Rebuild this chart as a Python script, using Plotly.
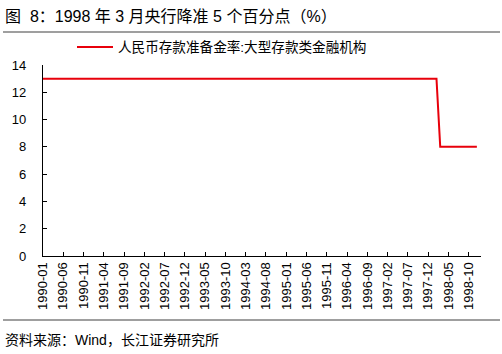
import plotly.graph_objects as go

# Data
dates = ["1990-01-01", "1998-02-01", "1998-03-01", "1998-12-01"]
rates = [13, 13, 8, 8]
series_name = "人民币存款准备金率:大型存款类金融机构"
tick_labels = ["1990-01", "1990-06", "1990-11", "1991-04", "1991-09", "1992-02",
               "1992-07", "1992-12", "1993-05", "1993-10", "1994-03", "1994-08",
               "1995-01", "1995-06", "1995-11", "1996-04", "1996-09", "1997-02",
               "1997-07", "1997-12", "1998-05", "1998-10"]
y_ticks = [0, 2, 4, 6, 8, 10, 12, 14]
title_text = "图  8：1998 年 3 月央行降准 5 个百分点（%）"
source_text = "资料来源：Wind，长江证券研究所"

W, H = 502, 354
L, R, T, B = 43, 21, 65, 98
pw, ph = W - L - R, H - T - B

def px(x):
    return (x - L) / pw

def py(y):
    return (H - B - y) / ph

FONT = "Liberation Sans, Arial, Noto Sans CJK SC, sans-serif"
MIX = "Liberation Sans, Arial, Noto Sans CJK SC, sans-serif"

fig = go.Figure()
fig.add_trace(go.Scatter(x=dates, y=rates, mode="lines", name=series_name,
                         line=dict(color="#e8000b", width=2), showlegend=False))

fig.update_layout(
    width=W, height=H,
    margin=dict(l=L, r=R, t=T, b=B),
    paper_bgcolor="white", plot_bgcolor="white",
    font=dict(family=FONT, size=13, color="#000"),
    xaxis=dict(range=["1990-01-01", "1999-01-01"], tickmode="array",
               tickvals=[t + "-01" for t in tick_labels], ticktext=tick_labels,
               tickangle=-90, ticks="inside", ticklen=4, tickcolor="#000",
               showline=True, linecolor="#000", linewidth=1.2, showgrid=False,
               zeroline=False, tickfont=dict(size=13, family=FONT)),
    yaxis=dict(range=[0, 14], tickvals=y_ticks, ticks="inside", ticklen=4,
               tickcolor="#000", showline=True, linecolor="#000", linewidth=1.2,
               showgrid=False, zeroline=False, tickfont=dict(size=13, family=FONT),
               ticklabelstandoff=13),
)

# legend (manual)
fig.add_shape(type="line", xref="paper", yref="paper",
              x0=px(77), x1=px(113), y0=py(47), y1=py(47),
              line=dict(color="#e8000b", width=2))
fig.add_annotation(text=series_name, xref="paper", yref="paper",
                   x=px(116), y=py(47), xanchor="left", yanchor="middle",
                   showarrow=False, font=dict(family=MIX, size=13.6, color="#000"))

# title
fig.add_annotation(text=title_text, xref="paper", yref="paper",
                   x=px(3), y=py(17), xanchor="left", yanchor="middle",
                   showarrow=False, font=dict(family=MIX, size=16, color="#000"))
fig.add_shape(type="line", xref="paper", yref="paper",
              x0=px(3), x1=px(500), y0=py(32), y1=py(32),
              line=dict(color="#7f7f7f", width=1.5))

# source
fig.add_shape(type="line", xref="paper", yref="paper",
              x0=px(3), x1=px(500), y0=py(320), y1=py(320),
              line=dict(color="#7f7f7f", width=1.5))
fig.add_annotation(text=source_text, xref="paper", yref="paper",
                   x=px(3), y=py(340), xanchor="left", yanchor="middle",
                   showarrow=False, font=dict(family=MIX, size=14, color="#000"))

fig.write_html("out.html")
